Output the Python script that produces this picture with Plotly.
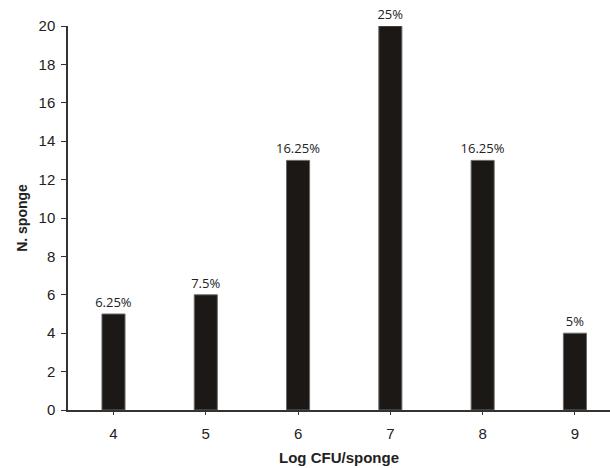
import plotly.graph_objects as go

categories = [4, 5, 6, 7, 8, 9]
counts = [5, 6, 13, 20, 13, 4]
pct_labels = ["6.25%", "7.5%", "16.25%", "25%", "16.25%", "5%"]
y_ticks = [0, 2, 4, 6, 8, 10, 12, 14, 16, 18, 20]

fig = go.Figure(go.Bar(
    x=categories, y=counts, width=0.25,
    marker=dict(color="#1b1815", line=dict(color="#6a6a6a", width=1)),
    text=pct_labels, textposition="outside", cliponaxis=False,
    constraintext="none",
    textfont=dict(family="Open Sans, sans-serif", size=13, color="#222222"),
))

fig.update_layout(
    width=610, height=468,
    margin=dict(l=68, r=0, t=26, b=58, autoexpand=False),
    paper_bgcolor="white", plot_bgcolor="white",
    showlegend=False,
    font=dict(family="Liberation Sans, Arial, sans-serif", size=15, color="#222222"),
    xaxis=dict(
        range=[3.507, 9.38], tickvals=categories, ticks="outside", ticklen=3,
        tickcolor="#333333", showline=True, linecolor="#333333", linewidth=1.5,
        showgrid=False, zeroline=False, automargin=False, ticklabelstandoff=6,
        title=dict(text="<b>Log CFU/sponge</b>", standoff=12,
                   font=dict(family="Liberation Sans, Arial, sans-serif", size=15)),
    ),
    yaxis=dict(
        range=[0, 20], tickvals=y_ticks, ticks="outside", ticklen=5,
        tickcolor="#333333", showline=True, linecolor="#333333", linewidth=1.5,
        showgrid=False, zeroline=False, automargin=False, ticklabelstandoff=3,
        title=dict(text="<b>N. sponge</b>", standoff=8,
                   font=dict(family="Liberation Sans, Arial, sans-serif", size=14)),
    ),
)

fig.write_html("out.html", config={"displayModeBar": False},
               post_script="document.body.style.margin='0';document.body.style.overflow='hidden';")
